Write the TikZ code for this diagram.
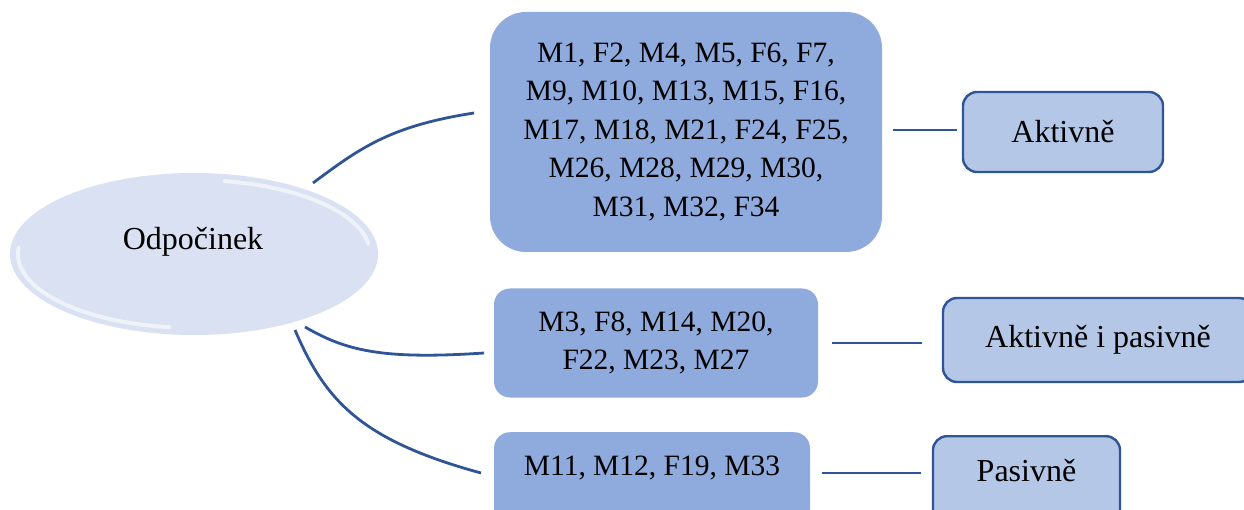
\documentclass[tikz,border=0pt]{standalone}
\usepackage{fontspec}
\setmainfont{Liberation Serif}
\usetikzlibrary{shapes.geometric}
\definecolor{boxfill}{HTML}{8FAADC}
\definecolor{labfill}{HTML}{B4C7E7}
\definecolor{labline}{HTML}{2F5597}
\definecolor{ellfill}{HTML}{D9E1F2}
\tikzset{
  grpbox/.style={fill=boxfill, rounded corners=16pt, align=center, inner sep=0pt,
    font=\fontsize{29.5}{38.5}\selectfont},
  labbox/.style={fill=labfill, draw=labline, line width=2.4pt, rounded corners=14pt,
    inner sep=0pt, font=\fontsize{32}{38}\selectfont},
  conn/.style={draw=labline, line width=2.8pt},
  gloss/.style={draw=white, opacity=0.6, line width=4pt, line cap=round},
}
\begin{document}
\begin{tikzpicture}[x=1pt,y=-1pt]
\useasboundingbox (0,0) rectangle (1244,510);
% ellipse
\node[ellipse, fill=ellfill, minimum width=368pt, minimum height=162pt, inner sep=0pt] (ell) at (194,254) {};
\draw[gloss] (ell.center) ++(175:176pt and 74pt) arc[start angle=175, end angle=262, x radius=176pt, y radius=74pt];
\draw[gloss] (ell.center) ++(8:176pt and 74pt) arc[start angle=8, end angle=80, x radius=176pt, y radius=74pt];
\node[font=\fontsize{32}{38}\selectfont] (elltxt) at (193,242) {Odpočinek};
% group boxes
\node[grpbox, rounded corners=36pt, minimum width=392pt, minimum height=240pt] (g1) at (686,132)
 {M1, F2, M4, M5, F6, F7,\\ M9, M10, M13, M15, F16,\\ M17, M18, M21, F24, F25,\\ M26, M28, M29, M30,\\ M31, M32, F34};
\node[grpbox, minimum width=324pt, minimum height=109pt] (g2) at (656,343)
 {M3, F8, M14, M20,\\ F22, M23, M27};
\node[grpbox, anchor=north, minimum width=316pt, text height=33pt, text depth=40pt, inner ysep=10pt] (g3) at (652,432)
 {M11, M12, F19, M33};
% label boxes
\node[labbox, minimum width=200pt, minimum height=80pt] (l1) at (1063,132) {Aktivně};
\node[labbox, minimum width=310pt, minimum height=84pt] (l2) at (1098,340) {Aktivně i pasivně};
\node[labbox, anchor=north, minimum width=187pt, text height=34pt, text depth=40pt, inner ysep=11pt] (l3) at (1026.5,435) {Pasivně};
% connector end points
\coordinate (e1) at (313,183);
\coordinate (e2) at (305,327);
\coordinate (e3) at (295,330);
\coordinate (b1) at (474,113);
\coordinate (b2) at (484,353);
\coordinate (b3) at (481,473);
\coordinate (r1a) at (893,130);
\coordinate (r1b) at (957,130);
\coordinate (r2a) at (832,343);
\coordinate (r2b) at (922,343);
\coordinate (r3a) at (822,473);
\coordinate (r3b) at (921,473);
% connectors
\draw[conn] (e1) .. controls (360,148) and (390,126) .. (b1);
\draw[conn] (e2) .. controls (345,350) and (380,360) .. (b2);
\draw[conn] (e3) .. controls (325,400) and (360,440) .. (b3);
\draw[conn] (r1a) -- (r1b);
\draw[conn] (r2a) -- (r2b);
\draw[conn] (r3a) -- (r3b);
\end{tikzpicture}
\end{document}
